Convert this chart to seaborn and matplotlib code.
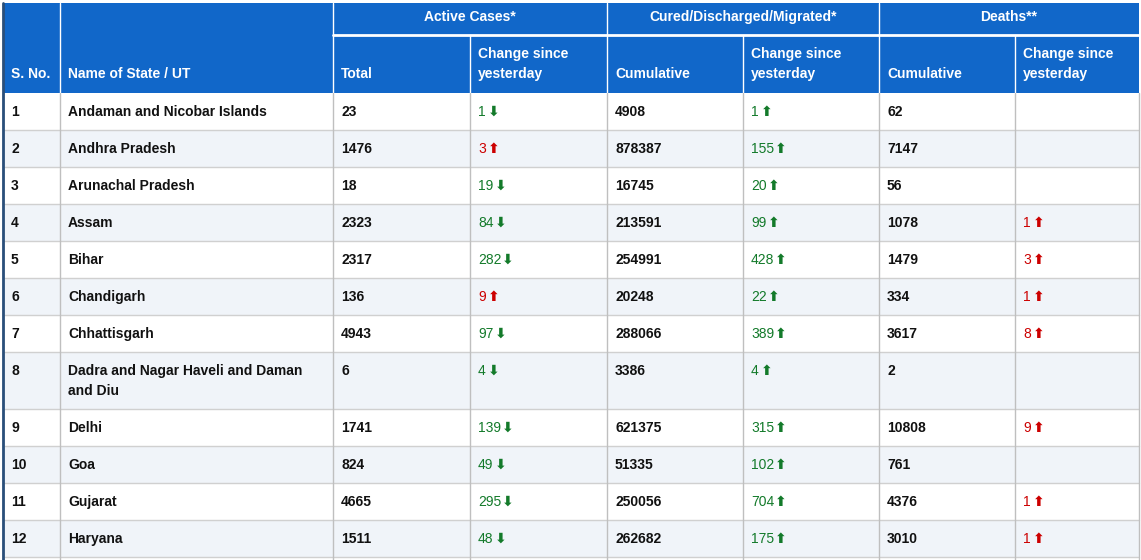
import matplotlib
matplotlib.use("Agg")
import matplotlib.pyplot as plt
import seaborn as sns
from matplotlib.patches import Rectangle

sns.set_style("white")

# data from the table
sno = list(range(1, 13))
states = ["Andaman and Nicobar Islands", "Andhra Pradesh", "Arunachal Pradesh", "Assam",
          "Bihar", "Chandigarh", "Chhattisgarh", "Dadra and Nagar Haveli and Daman\nand Diu",
          "Delhi", "Goa", "Gujarat", "Haryana"]
active_total = [23, 1476, 18, 2323, 2317, 136, 4943, 6, 1741, 824, 4665, 1511]
active_change = [1, 3, 19, 84, 282, 9, 97, 4, 139, 49, 295, 48]
active_dir = ["down", "up", "down", "down", "down", "up", "down", "down", "down", "down", "down", "down"]
cured_cum = [4908, 878387, 16745, 213591, 254991, 20248, 288066, 3386, 621375, 51335, 250056, 262682]
cured_change = [1, 155, 20, 99, 428, 22, 389, 4, 315, 102, 704, 175]
deaths_cum = [62, 7147, 56, 1078, 1479, 334, 3617, 2, 10808, 761, 4376, 3010]
deaths_change = [None, None, None, 1, 3, 1, 8, None, 9, None, 1, 1]

HEAD = "#1167c9"
GREEN = "#137a2a"
RED = "#cc0000"
FONT = "Liberation Sans"

cols = [3, 60, 333, 470, 607, 743, 879, 1015, 1139]
row_h = [37] * 12
row_h[7] = 57

fig = plt.figure(figsize=(11.41, 5.6), dpi=100)
ax = fig.add_axes([0, 0, 1, 1])
ax.set_xlim(0, 1141)
ax.set_ylim(560, 0)
ax.axis("off")

# header
ax.add_patch(Rectangle((3, 3), 1136, 90, color=HEAD, lw=0))
ax.plot([333, 1139], [35, 35], color="white", lw=2)
for x in cols[1:-1]:
    y0 = 3 if x in (60, 333, 607, 879) else 35
    ax.plot([x, x], [y0, 93], color="white", lw=1)
for lab, x0, x1 in [("Active Cases*", 333, 607), ("Cured/Discharged/Migrated*", 607, 879),
                    ("Deaths**", 879, 1139)]:
    ax.text((x0 + x1) / 2, 17, lab, color="white", fontsize=10, fontweight="bold",
            family=FONT, ha="center", va="center")
sub = ["S. No.", "Name of State / UT", "Total", "Change since\nyesterday", "Cumulative",
       "Change since\nyesterday", "Cumulative", "Change since\nyesterday"]
for i, lab in enumerate(sub):
    ax.text(cols[i] + 8, 74 if "\n" not in lab else 64, lab, color="white", fontsize=10,
            fontweight="bold", family=FONT, ha="left", va="center", linespacing=1.5)


def change(x, y, n, d, color):
    ax.text(x, y, str(n), color=color, fontsize=10, family=FONT, ha="left", va="center")
    arrow = "\u2b07" if d == "down" else "\u2b06"
    ax.annotate(arrow, xy=(x, y), xytext=(len(str(n)) * 7.4 + 2, 0), textcoords="offset pixels",
                color=color if d == "down" else (RED if color == RED else GREEN),
                fontsize=10, family="DejaVu Sans", fontweight="bold", ha="left", va="center")


y = 93
for i in range(12):
    h = row_h[i]
    ax.add_patch(Rectangle((3, y), 1136, h, color="#f0f4f9" if i % 2 else "white", lw=0))
    ty = y + 19
    vals = [str(sno[i]), states[i], str(active_total[i]), None, str(cured_cum[i]), None,
            str(deaths_cum[i]), None]
    for j, v in enumerate(vals):
        if v is not None:
            ax.text(cols[j] + 8, ty if "\n" not in v else y + 29, v, fontsize=10, fontweight="bold",
                    family=FONT, color="#111111", ha="left", va="center", linespacing=1.5)
    c = RED if active_dir[i] == "up" else GREEN
    change(cols[3] + 8, ty, active_change[i], active_dir[i], c)
    change(cols[5] + 8, ty, cured_change[i], "up", GREEN)
    if deaths_change[i] is not None:
        change(cols[7] + 8, ty, deaths_change[i], "up", RED)
    y += h
    ax.plot([3, 1139], [y, y], color="#d0d0d0", lw=1)

# grid lines in body
for x in cols:
    ax.plot([x, x], [93, 560], color="#bfbfbf", lw=1)
ax.plot([3, 3], [3, 560], color="#2a4f7a", lw=2)

fig.savefig("out.png", dpi=100)
